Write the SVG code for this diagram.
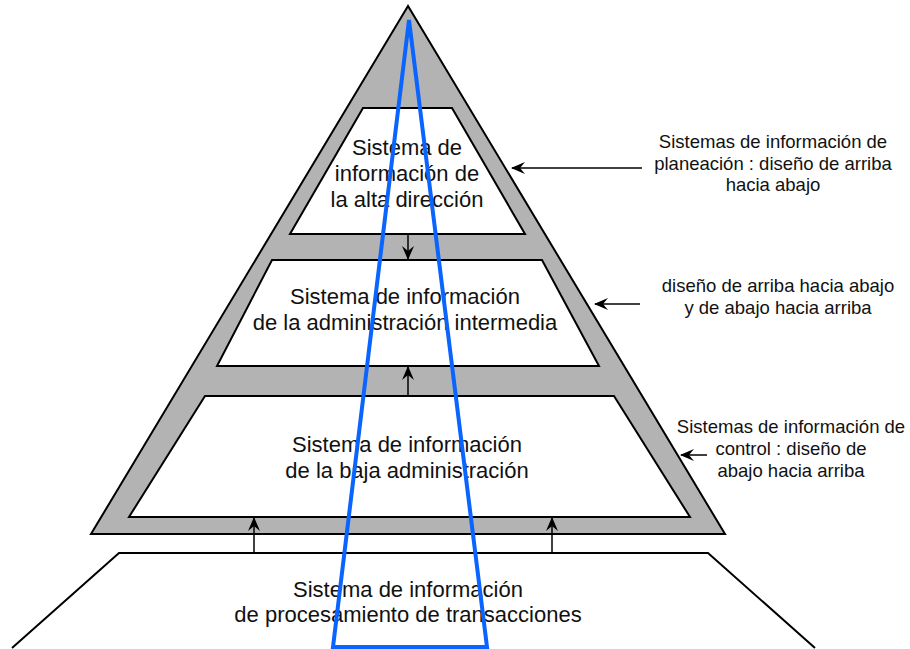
<svg xmlns="http://www.w3.org/2000/svg" width="910" height="649" viewBox="0 0 910 649">
<style>
.lvl{fill:#fff;stroke:#000;stroke-width:2}
.t{font-family:"Liberation Sans",Arial,sans-serif;font-size:22px;fill:#111;text-anchor:middle}
.s{font-family:"Liberation Sans",Arial,sans-serif;font-size:18.5px;fill:#111;text-anchor:middle}
.c{stroke:#000;stroke-width:1.5;fill:none;marker-end:url(#ah)}
</style>
<defs>
<marker id="ah" viewBox="0 0 14 12" refX="13" refY="6" markerWidth="14" markerHeight="12" markerUnits="userSpaceOnUse" orient="auto">
<path d="M0,0 L14,6 L0,12 L5,6 Z" fill="#000"/>
</marker>
</defs>
<rect width="910" height="649" fill="#fff"/>
<g id="base">
<polyline points="12,648 119,553 708,553 815,648" fill="#fff" stroke="#000" stroke-width="2"/>
<text class="t" x="408" y="597">Sistema de información</text>
<text class="t" x="408" y="622">de procesamiento de transacciones</text>
</g>
<g id="pyramid">
<polygon points="408,6 91,534 725,534" fill="#b3b3b3" stroke="#000" stroke-width="2"/>
</g>
<g id="top">
<polygon class="lvl" points="363,108 452,108 525,234 290,234"/>
<text class="t" x="407" y="155">Sistema de</text>
<text class="t" x="407" y="181">información de</text>
<text class="t" x="407" y="207">la alta dirección</text>
</g>
<g id="middle">
<polygon class="lvl" points="272,260 542,260 599,366 217,366"/>
<text class="t" x="405" y="304">Sistema de información</text>
<text class="t" x="405" y="330">de la administración intermedia</text>
</g>
<g id="lower">
<polygon class="lvl" points="205,396 614,396 690,517 129,517"/>
<text class="t" x="407" y="452">Sistema de información</text>
<text class="t" x="407" y="478">de la baja administración</text>
</g>
<g id="blue">
<polygon points="409,20 333,647 487,647" fill="none" stroke="#0a64ff" stroke-width="4" stroke-linejoin="miter"/>
</g>
<g id="connectors">
<line class="c" x1="408" y1="234" x2="408" y2="259"/>
<line class="c" x1="408" y1="396" x2="408" y2="367"/>
<line class="c" x1="254" y1="553" x2="254" y2="518"/>
<line class="c" x1="552" y1="553" x2="552" y2="518"/>
<line class="c" x1="642" y1="168" x2="512" y2="168"/>
<line class="c" x1="640" y1="304" x2="595" y2="304"/>
<line class="c" x1="707" y1="455" x2="681" y2="455"/>
</g>
<g id="label1">
<text class="s" x="773" y="148">Sistemas de información de</text>
<text class="s" x="773" y="170">planeación : diseño de arriba</text>
<text class="s" x="773" y="191">hacia abajo</text>
</g>
<g id="label2">
<text class="s" x="778" y="292">diseño de arriba hacia abajo</text>
<text class="s" x="778" y="314">y de abajo hacia arriba</text>
</g>
<g id="label3">
<text class="s" x="791" y="433">Sistemas de información de</text>
<text class="s" x="791" y="455">control : diseño de</text>
<text class="s" x="791" y="477">abajo hacia arriba</text>
</g>
</svg>
